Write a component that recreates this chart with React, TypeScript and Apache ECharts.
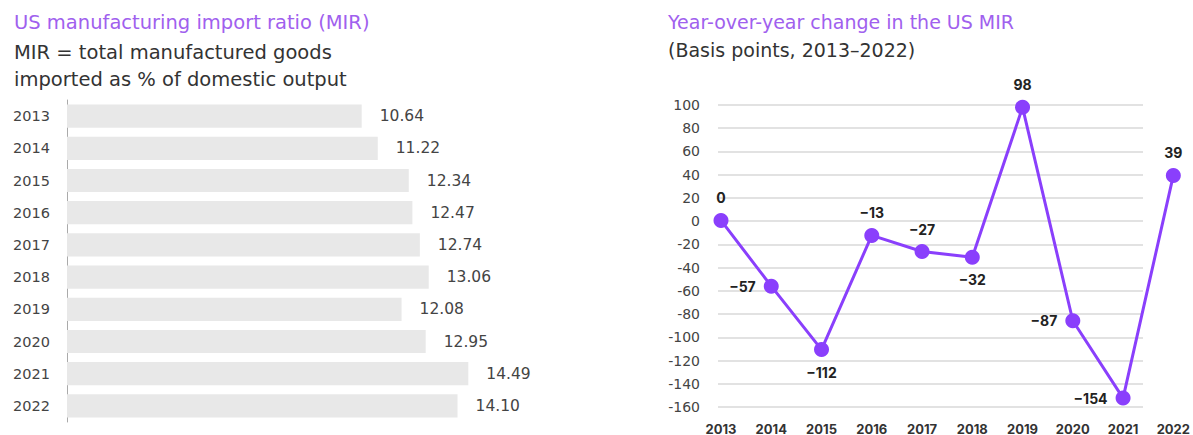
import React, { useEffect, useRef } from "react";
import * as echarts from "echarts";

const years = ["2013", "2014", "2015", "2016", "2017", "2018", "2019", "2020", "2021", "2022"];
const mirValues = [10.64, 11.22, 12.34, 12.47, 12.74, 13.06, 12.08, 12.95, 14.49, 14.1];
const yoyChange = [0, -57, -112, -13, -27, -32, 98, -87, -154, 39];
const yoyLabelPos = ["top", "left", "bottom", "top", "top", "bottom", "top", "left", "left", "top"];

const PURPLE_TEXT = "#a060ee";
const LINE_PURPLE = "#8a3ffc";
const FONT = "Inter, 'Noto Sans', sans-serif";
const WIDE = "'DejaVu Sans', sans-serif";

export default function App() {
  const ref = useRef<HTMLDivElement>(null);
  useEffect(() => {
    if (!ref.current) return;
    const chart = echarts.init(ref.current, null, { renderer: "svg" });
    const option: any = {
      animation: false,
      backgroundColor: "#ffffff",
      textStyle: { fontFamily: FONT },
      title: [
        { text: "US manufacturing import ratio (MIR)", left: 9, top: 7, textStyle: { color: PURPLE_TEXT, fontSize: 19.5, fontWeight: 400, fontFamily: WIDE } },
        { text: "MIR = total manufactured goods", left: 9, top: 37, textStyle: { color: "#333", fontSize: 19.5, fontWeight: 400, fontFamily: WIDE } },
        { text: "imported as % of domestic output", left: 9, top: 64, textStyle: { color: "#333", fontSize: 19.5, fontWeight: 400, fontFamily: WIDE } },
        { text: "Year-over-year change in the US MIR", left: 663, top: 7, textStyle: { color: PURPLE_TEXT, fontSize: 19, fontWeight: 400, fontFamily: WIDE } },
        { text: "(Basis points, 2013\u20132022)", left: 663, top: 35, textStyle: { color: "#333", fontSize: 19, fontWeight: 400, fontFamily: WIDE } },
      ],
      grid: [
        { left: 67, top: 100, width: 457, height: 322 },
        { left: 721, top: 105, right: 19, height: 302 },
        { left: 718, top: 105, right: 50, height: 302 },
      ],
      xAxis: [
        { type: "value", gridIndex: 0, min: 0, max: 16.5, show: false },
        {
          type: "category", gridIndex: 1, data: years, boundaryGap: false,
          axisLine: { show: false }, axisTick: { show: false },
          axisLabel: { color: "#333", fontSize: 13, fontWeight: 700, margin: 17, interval: 0, fontFamily: FONT },
        },
        { type: "category", gridIndex: 2, data: years, show: false },
      ],
      yAxis: [
        {
          type: "category", gridIndex: 0, data: years, inverse: true,
          axisLine: { show: true, lineStyle: { color: "#aaa", width: 1 } },
          axisTick: { show: false },
          axisLabel: { color: "#444", fontSize: 14.5, margin: 17, fontFamily: WIDE },
        },
        { type: "value", gridIndex: 1, min: -160, max: 100, interval: 20, show: false },
        {
          type: "value", gridIndex: 2, min: -160, max: 100, interval: 20,
          axisLine: { show: false }, axisTick: { show: false },
          axisLabel: { color: "#444", fontSize: 14, margin: 18, fontFamily: WIDE },
          splitLine: { lineStyle: { color: "#d9d9d9", width: 1.5 } },
        },
      ],
      series: [
        {
          type: "bar", xAxisIndex: 0, yAxisIndex: 0, data: mirValues,
          barCategoryGap: "28%",
          itemStyle: { color: "#e8e8e8" },
          label: {
            show: true, position: "right", distance: 18, color: "#444", fontSize: 15.5, fontFamily: WIDE,
            formatter: (p: any) => Number(p.value).toFixed(2),
          },
        },
        {
          type: "line", xAxisIndex: 1, yAxisIndex: 1,
          data: yoyChange.map((v, i) => ({
            value: v,
            label: { position: yoyLabelPos[i] },
          })),
          lineStyle: { color: LINE_PURPLE, width: 3 },
          itemStyle: { color: LINE_PURPLE },
          symbol: "circle", symbolSize: 15,
          label: {
            show: true, color: "#222", fontSize: 14, fontWeight: 700, distance: 8, fontFamily: FONT,
            formatter: (p: any) => (p.value < 0 ? "\u2212" + Math.abs(p.value) : String(p.value)),
          },
        },
      ],
    };
    chart.setOption(option);
    return () => chart.dispose();
  }, []);
  return <div ref={ref} style={{ position: "absolute", left: 0, top: 0, width: 1193, height: 435 }} />;
}
